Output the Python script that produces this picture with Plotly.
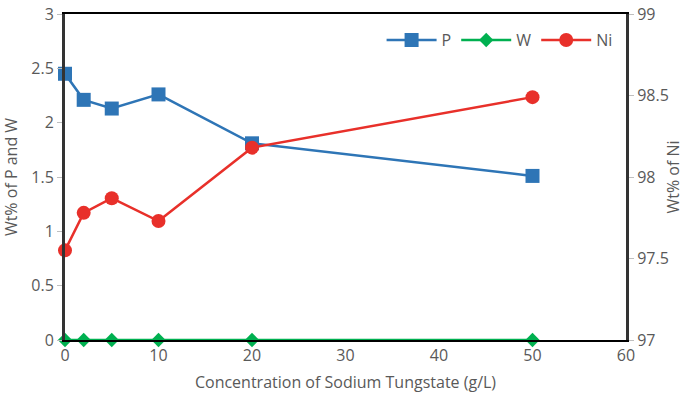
import plotly.graph_objects as go

conc = [0, 2, 5, 10, 20, 50]
p_wt = [2.45, 2.21, 2.13, 2.26, 1.81, 1.51]
w_wt = [0, 0, 0, 0, 0, 0]
ni_wt = [97.55, 97.78, 97.87, 97.73, 98.18, 98.49]

FONT = "Open Sans"
GRAY = "#595959"

fig = go.Figure()
fig.add_trace(go.Scatter(x=conc, y=p_wt, name="P", mode="lines+markers",
                         line=dict(color="#2E75B6", width=2.5),
                         marker=dict(symbol="square", size=14, color="#2E75B6"),
                         cliponaxis=False))
fig.add_trace(go.Scatter(x=conc, y=w_wt, name="W", mode="lines+markers",
                         line=dict(color="#00B050", width=2.5),
                         marker=dict(symbol="diamond", size=11, color="#00B050"),
                         cliponaxis=False))
fig.add_trace(go.Scatter(x=conc, y=ni_wt, name="Ni", mode="lines+markers", yaxis="y2",
                         line=dict(color="#E8302A", width=2.5),
                         marker=dict(symbol="circle", size=14, color="#E8302A"),
                         cliponaxis=False))

fig.update_layout(
    width=684, height=406,
    margin=dict(l=65, r=58, t=14, b=66),
    paper_bgcolor="white", plot_bgcolor="white",
    font=dict(family=FONT, size=16, color=GRAY),
    showlegend=True,
    legend=dict(orientation="h", x=0.985, y=0.92, xanchor="right", yanchor="middle",
                font=dict(family=FONT, size=16, color=GRAY),
                bgcolor="rgba(0,0,0,0)", itemwidth=50),
    xaxis=dict(range=[0, 60], tickvals=[0, 10, 20, 30, 40, 50, 60],
               showgrid=False, zeroline=False, showline=True, mirror=True,
               linecolor="black", linewidth=2, ticks="", ticklen=0, automargin=False,
               title=dict(text="Concentration of Sodium Tungstate (g/L)", standoff=12,
                          font=dict(size=16, color=GRAY))),
    yaxis=dict(range=[0, 3], tickvals=[0, 0.5, 1, 1.5, 2, 2.5, 3],
               ticktext=["0", "0.5", "1", "1.5", "2", "2.5", "3"],
               showgrid=False, zeroline=False, showline=True, mirror=False,
               linecolor="#333333", linewidth=3, ticks="outside", ticklen=5,
               tickcolor="#BFBFBF", automargin=False,
               title=dict(text="Wt% of P and W", standoff=10,
                          font=dict(size=16, color=GRAY))),
    yaxis2=dict(range=[97, 99], tickvals=[97, 97.5, 98, 98.5, 99],
                ticktext=["97", "97.5", "98", "98.5", "99"],
                overlaying="y", side="right",
                showgrid=False, zeroline=False, showline=True,
                linecolor="#333333", linewidth=3, ticks="outside", ticklen=5,
                tickcolor="#BFBFBF", automargin=False,
                title=dict(text="Wt% of Ni", standoff=10,
                           font=dict(size=16, color=GRAY))),
)

fig.write_html("out.html")
